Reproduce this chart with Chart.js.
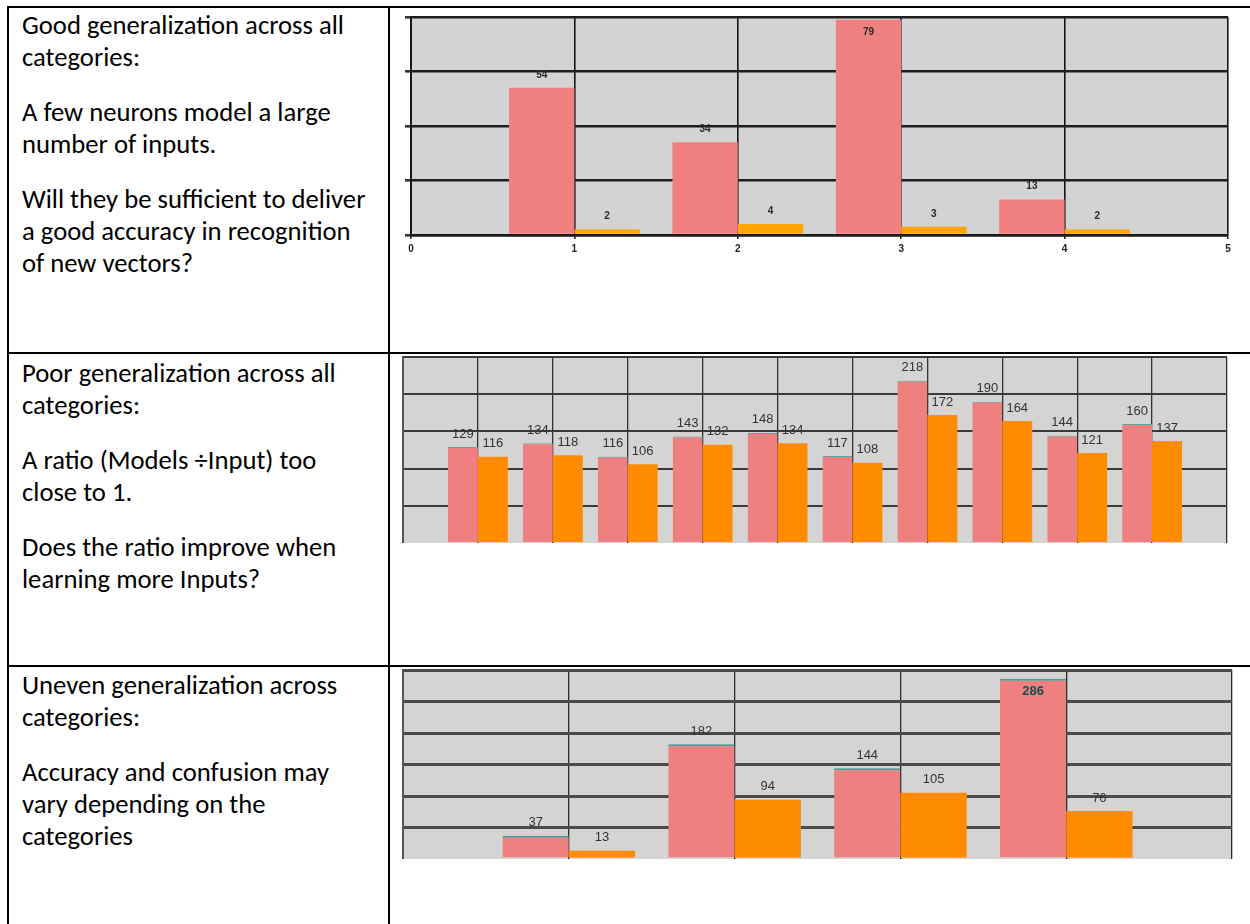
<!DOCTYPE html>
<html>
<head>
<meta charset="utf-8">
<script src="https://cdn.jsdelivr.net/npm/chart.js@4.4.1/dist/chart.umd.min.js"></script>
<style>
html,body{margin:0;padding:0;background:#fff;width:1250px;height:924px;overflow:hidden;}
#page{position:relative;width:1250px;height:924px;}
.hline{position:absolute;height:2px;background:#000;}
.vline{position:absolute;width:2px;background:#000;}
.cell{position:absolute;left:22px;font-family:Calibri,Carlito,Lato,sans-serif;font-size:21px;color:#000;white-space:nowrap;}
.cell p{margin:0 0 23px 0;line-height:32px;}
canvas{position:absolute;}
</style>
</head>
<body>
<div id="page">
  <div class="hline" style="left:7px;top:6px;width:1243px;"></div>
  <div class="hline" style="left:7px;top:352px;width:1243px;"></div>
  <div class="hline" style="left:7px;top:665px;width:1243px;"></div>
  <div class="vline" style="left:7px;top:6px;height:918px;"></div>
  <div class="vline" style="left:388px;top:6px;height:918px;"></div>

  <div class="cell" style="top:9px;">
    <p>Good generalization across all<br>categories:</p>
    <p>A few neurons model a large<br>number of inputs.</p>
    <p>Will they be sufficient to deliver<br>a good accuracy in recognition<br>of new vectors?</p>
  </div>
  <div class="cell" style="top:357px;">
    <p>Poor generalization across all<br>categories:</p>
    <p>A ratio (Models ÷Input) too<br>close to 1.</p>
    <p>Does the ratio improve when<br>learning more Inputs?</p>
  </div>
  <div class="cell" style="top:669px;">
    <p>Uneven generalization across<br>categories:</p>
    <p>Accuracy and confusion may<br>vary depending on the<br>categories</p>
  </div>

  <canvas id="c1" width="836" height="250" style="left:401px;top:12px;"></canvas>
  <canvas id="c2" width="835" height="191" style="left:398px;top:352px;"></canvas>
  <canvas id="c3" width="840" height="192" style="left:398px;top:667px;"></canvas>
</div>

<script>
// ---------- data ----------
const chart1Categories = [1, 2, 3, 4];
const chart1Models = [54, 34, 79, 13];
const chart1Inputs = [2, 4, 3, 2];
const chart1TickLabels = ['0', '1', '2', '3', '4', '5'];

const chart2Categories = [1, 2, 3, 4, 5, 6, 7, 8, 9, 10];
const chart2Models = [129, 134, 116, 143, 148, 117, 218, 190, 144, 160];
const chart2Inputs = [116, 118, 106, 132, 134, 108, 172, 164, 121, 137];

const chart3Categories = [1, 2, 3, 4];
const chart3Models = [37, 182, 144, 286];
const chart3Inputs = [13, 94, 105, 76];

// ---------- fit text width ----------
(function fitText(){
  const cell = document.querySelector('.cell');
  const fam = getComputedStyle(cell).fontFamily;
  const c = document.createElement('canvas').getContext('2d');
  c.font = '100px ' + fam;
  const w = c.measureText('Good generalization across all').width;
  if (w > 0) {
    const size = 100 * 322 / w;
    document.querySelectorAll('.cell').forEach(e => e.style.fontSize = size.toFixed(2) + 'px');
  }
})();

const NARROW = '"Liberation Sans Narrow", "Arial Narrow", "Liberation Sans", Arial';

// ---------- plugins ----------
const plotBackground = {
  id: 'plotBackground',
  beforeDraw(chart, args, opts) {
    const {ctx, chartArea: a} = chart;
    ctx.save();
    ctx.fillStyle = opts.color || '#d3d3d3';
    ctx.fillRect(a.left, a.top, a.right - a.left, a.bottom - a.top);
    ctx.restore();
  }
};

const valueLabels = {
  id: 'valueLabels',
  afterDatasetsDraw(chart, args, opts) {
    const {ctx, chartArea} = chart;
    ctx.save();
    ctx.textAlign = 'center';
    ctx.textBaseline = 'middle';
    chart.data.datasets.forEach((ds, i) => {
      const meta = chart.getDatasetMeta(i);
      meta.data.forEach((bar, j) => {
        const v = ds.data[j].y;
        let y = bar.y - opts.offset;
        let inside = false;
        if (y - opts.size / 2 < chartArea.top) { y = bar.y + opts.offset; inside = true; }
        if (inside && opts.inside) {
          ctx.font = opts.inside.weight + ' ' + opts.size + 'px ' + opts.family;
          ctx.fillStyle = opts.inside.color;
        } else {
          ctx.font = opts.weight + ' ' + opts.size + 'px ' + opts.family;
          ctx.fillStyle = opts.color;
        }
        ctx.fillText(String(v), bar.x, y);
      });
    });
    ctx.restore();
  }
};

function pts(xs, ys) { return xs.map((x, i) => ({x: x, y: ys[i]})); }

function hideZero(color) {
  return (c) => (c.tick && c.tick.value === 0) ? 'rgba(0,0,0,0)' : color;
}

// ---------- chart 1 ----------
new Chart(document.getElementById('c1'), {
  type: 'bar',
  data: {
    datasets: [
      {data: pts(chart1Categories, chart1Models), backgroundColor: '#f08080', borderWidth: 0},
      {data: pts(chart1Categories, chart1Inputs), backgroundColor: '#ffa500', borderWidth: 0}
    ]
  },
  options: {
    responsive: false, animation: false,
    layout: {padding: {left: 3, top: 5, right: 9, bottom: 0}},
    datasets: {bar: {categoryPercentage: 0.8, barPercentage: 1.0}},
    plugins: {
      legend: {display: false}, tooltip: {enabled: false},
      plotBackground: {color: '#d3d3d3'},
      valueLabels: {offset: 13, size: 10, weight: 'bold', family: NARROW, color: '#2a2a2a'}
    },
    scales: {
      x: {
        type: 'linear', min: 0, max: 5, offset: false,
        grid: {offset: false, color: '#151515', lineWidth: 1.6, drawTicks: true, tickLength: 4, tickColor: '#222'},
        border: {display: true, color: '#1a1a1a', width: 2.5},
        ticks: {stepSize: 1, padding: 4, color: '#222',
          font: {size: 10, weight: 'bold', family: NARROW},
          callback: (v) => chart1TickLabels[v]},
        afterFit: (s) => { s.height = 27; }
      },
      y: {
        min: 0, max: 80,
        grid: {color: '#1e1e1e', lineWidth: 2.6, drawTicks: true, tickLength: 6, tickColor: '#333'},
        border: {display: true, color: '#1a1a1a', width: 2},
        ticks: {display: false, stepSize: 20},
        afterFit: (s) => { s.width = 7; }
      }
    }
  },
  plugins: [plotBackground, valueLabels]
});

// ---------- chart 2 ----------
new Chart(document.getElementById('c2'), {
  type: 'bar',
  data: {
    datasets: [
      {data: pts(chart2Categories, chart2Models), backgroundColor: '#f08080', borderColor: '#6a9c9c', borderWidth: {top: 1, left: 0, right: 0, bottom: 0}},
      {data: pts(chart2Categories, chart2Inputs), backgroundColor: '#ff8c00', borderWidth: 0}
    ]
  },
  options: {
    responsive: false, animation: false,
    layout: {padding: {left: 5, top: 5, right: 6, bottom: 0}},
    datasets: {bar: {categoryPercentage: 0.8, barPercentage: 1.0}},
    plugins: {
      legend: {display: false}, tooltip: {enabled: false},
      plotBackground: {color: '#d4d4d4'},
      valueLabels: {offset: 13, size: 13, weight: 'normal', family: NARROW, color: '#333'}
    },
    scales: {
      x: {
        type: 'linear', min: 0, max: 11, offset: false,
        grid: {offset: false, color: '#333', lineWidth: 1.3, drawTicks: false},
        border: {display: false},
        ticks: {display: false, stepSize: 1},
        afterFit: (s) => { s.height = 0; }
      },
      y: {
        min: 0, max: 250,
        grid: {color: hideZero('#3a3a3a'), lineWidth: 2, drawTicks: false},
        border: {display: true, color: '#555', width: 2},
        ticks: {display: false, stepSize: 50},
        afterFit: (s) => { s.width = 0; }
      }
    }
  },
  plugins: [plotBackground, valueLabels]
});

// ---------- chart 3 ----------
new Chart(document.getElementById('c3'), {
  type: 'bar',
  data: {
    datasets: [
      {data: pts(chart3Categories, chart3Models), backgroundColor: '#ee8080', borderColor: '#4a9a9a', borderWidth: {top: 2, left: 0, right: 0, bottom: 0}},
      {data: pts(chart3Categories, chart3Inputs), backgroundColor: '#ff8c00', borderWidth: 0}
    ]
  },
  options: {
    responsive: false, animation: false,
    layout: {padding: {left: 5, top: 3, right: 6, bottom: 0}},
    datasets: {bar: {categoryPercentage: 0.8, barPercentage: 1.0}},
    plugins: {
      legend: {display: false}, tooltip: {enabled: false},
      plotBackground: {color: '#d4d4d4'},
      valueLabels: {offset: 13, size: 13, weight: 'normal', family: NARROW, color: '#333',
        inside: {weight: 'bold', color: '#0b4f4f'}}
    },
    scales: {
      x: {
        type: 'linear', min: 0, max: 5, offset: false,
        grid: {offset: false, color: '#2a2a2a', lineWidth: 1.3, drawTicks: false},
        border: {display: false},
        ticks: {display: false, stepSize: 1},
        afterFit: (s) => { s.height = 0; }
      },
      y: {
        min: 0, max: 300,
        grid: {color: hideZero('#4a4a4a'), lineWidth: 3, drawTicks: false},
        border: {display: true, color: '#555', width: 2},
        ticks: {display: false, stepSize: 50},
        afterFit: (s) => { s.width = 0; }
      }
    }
  },
  plugins: [plotBackground, valueLabels]
});
</script>
</body>
</html>
